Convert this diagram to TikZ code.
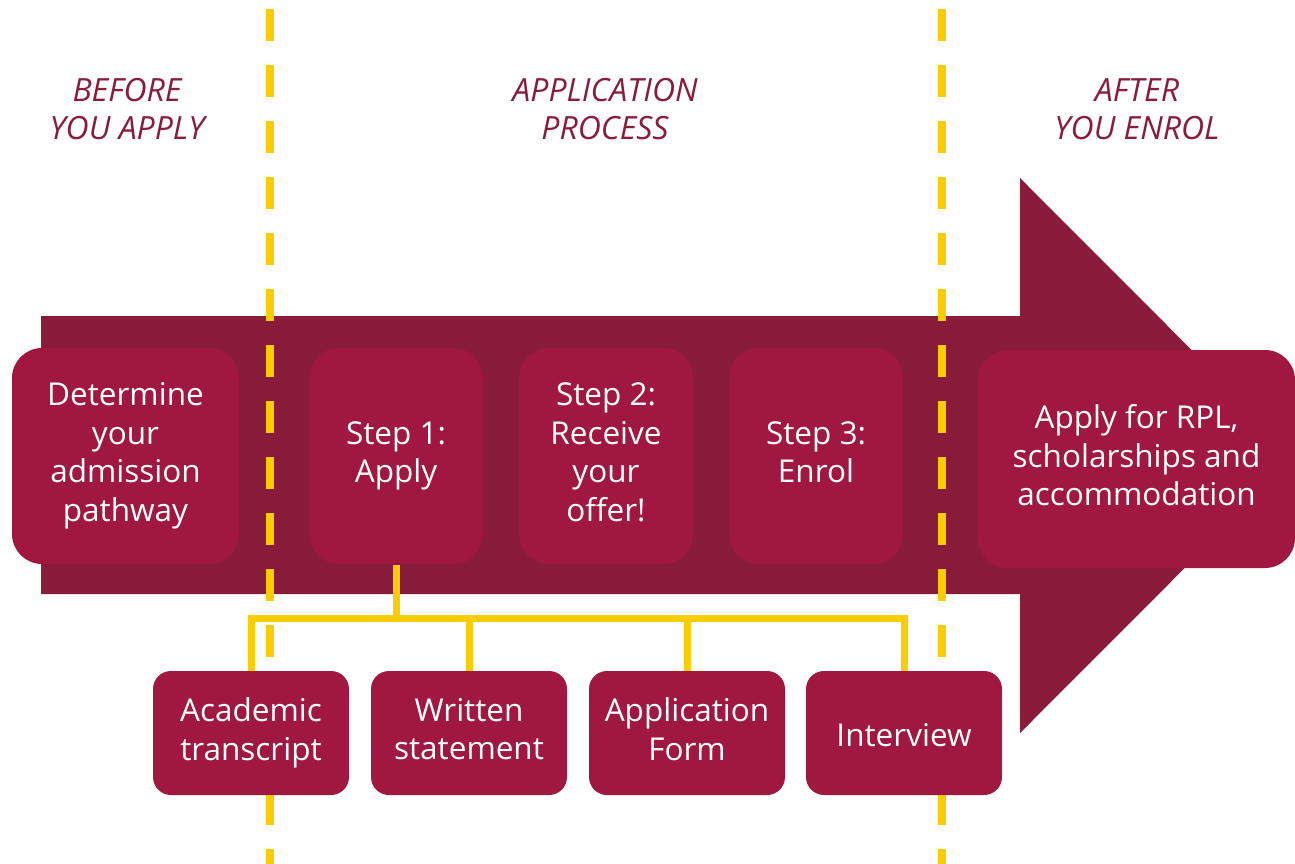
\documentclass[tikz,border=0pt]{standalone}
\usepackage{fontspec}
\setmainfont{Open Sans}
\definecolor{arrowred}{HTML}{8A1C3B}
\definecolor{boxred}{HTML}{A0173F}
\definecolor{gold}{HTML}{F9CD00}
\newcommand{\mytopstrut}{\rule{0pt}{34.5pt}}
\newcommand{\mybotstrut}{\rule[-8pt]{0pt}{8pt}}
\begin{document}
\begin{tikzpicture}[x=1pt,y=-1pt,
  boxtext/.style={text=white, align=center, inner sep=0pt,
    font=\fontsize{31.5}{38.7}\selectfont,
    execute at begin node=\mytopstrut, execute at end node=\mybotstrut},
  stagebox/.style={boxtext, fill=boxred, rounded corners=30pt, minimum height=216pt},
  docbox/.style={boxtext, fill=boxred, rounded corners=18pt,
    minimum width=196pt, minimum height=124pt},
  phase/.style={text=arrowred, align=center, inner sep=0pt,
    font=\fontsize{32}{38}\selectfont\itshape},
  divider/.style={draw=gold, line width=8pt, dash pattern=on 32pt off 24pt},
  conn/.style={draw=gold, line width=7pt, miter limit=10}]
\useasboundingbox (0,0) rectangle (1295,864);
% big arrow
\fill[arrowred] (41,316) -- (1020,316) -- (1020,178) -- (1297,455.5) -- (1020,733) -- (1020,594) -- (41,594) -- cycle;
% dividers
\coordinate (d1top) at (270,9);
\coordinate (d1bot) at (270,870);
\coordinate (d2top) at (942,9);
\coordinate (d2bot) at (942,870);
\draw[divider] (d1top) -- (d1bot);
\draw[divider] (d2top) -- (d2bot);
% phase titles
\node[phase] (p1) at (127,109) {BEFORE\\YOU APPLY};
\node[phase] (p2) at (605,109) {APPLICATION\\PROCESS};
\node[phase] (p3) at (1137,109) {AFTER\\YOU ENROL};
% connectors (drawn under boxes)
\coordinate (bus) at (0,618);
\coordinate (s1foot) at (396,565);
\coordinate (t1top) at (251,671);
\coordinate (t2top) at (469,671);
\coordinate (t3top) at (687,671);
\coordinate (t4top) at (904,671);
\draw[conn] (s1foot) -- (s1foot |- bus);
\draw[conn] (t1top) -- (t1top |- bus) -- (t4top |- bus) -- (t4top);
\draw[conn] (t2top) -- (t2top |- bus);
\draw[conn] (t3top) -- (t3top |- bus);
% stage boxes
\node[stagebox, minimum width=227pt] (s0) at (125.5,456) {Determine\\your\\admission\\pathway};
\node[stagebox, minimum width=174pt] (s1) at (396,456) {Step 1:\\Apply};
\node[stagebox, minimum width=174pt] (s2) at (606,456) {Step 2:\\Receive\\your\\offer!};
\node[stagebox, minimum width=174pt] (s3) at (816,456) {Step 3:\\Enrol};
\node[stagebox, minimum width=317pt, minimum height=218pt] (s4) at (1136.5,459) {Apply for RPL,\\scholarships and\\accommodation};
% document boxes
\node[docbox] (t1) at (251,733) {Academic\\transcript};
\node[docbox] (t2) at (469,733) {Written\\statement};
\node[docbox] (t3) at (687,733) {Application\\Form};
\node[docbox] (t4) at (904,733) {Interview};
\end{tikzpicture}
\end{document}
